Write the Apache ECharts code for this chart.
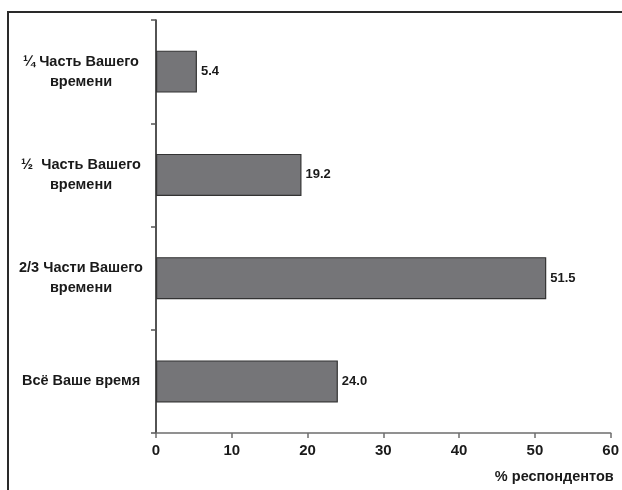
<!DOCTYPE html>
<html>
<head>
<meta charset="utf-8">
<script src="https://cdn.jsdelivr.net/npm/echarts@6/dist/echarts.min.js"></script>
<style>
  html, body { margin: 0; padding: 0; background: #fff; }
  #chart { width: 622px; height: 490px; }
</style>
</head>
<body>
<div id="chart"></div>
<script>
// Share of time answers, % of respondents
const categories = [
  '¼ Часть Вашего\nвремени',
  '½  Часть Вашего\nвремени',
  '2/3 Части Вашего\nвремени',
  'Всё Ваше время'
];
const values = [5.4, 19.2, 51.5, 24.0];
const xTicks = [0, 10, 20, 30, 40, 50, 60];
const xAxisTitle = '% респондентов';

const font = '"Liberation Sans", Arial, sans-serif';
const chart = echarts.init(document.getElementById('chart'), null, { renderer: 'canvas' });

chart.setOption({
  animation: false,
  backgroundColor: '#fff',
  grid: { left: 156, right: 8, top: 20, bottom: 57 },
  graphic: [{
    type: 'rect',
    shape: { x: 8, y: 12, width: 700, height: 600 },
    style: { fill: 'none', stroke: '#2a2a2a', lineWidth: 2 },
    silent: true
  }],
  xAxis: {
    type: 'value',
    min: xTicks[0],
    max: xTicks[xTicks.length - 1],
    interval: xTicks[1] - xTicks[0],
    splitLine: { show: false },
    axisLine: { show: true, lineStyle: { color: '#6e6e6e', width: 1.5 } },
    axisTick: { show: true, length: 5, lineStyle: { color: '#6e6e6e', width: 1.5 } },
    axisLabel: { color: '#1a1a1a', fontFamily: font, fontWeight: 'bold', fontSize: 15, margin: 10 },
    name: xAxisTitle,
    nameLocation: 'end',
    nameGap: 0,
    nameTextStyle: {
      color: '#1a1a1a', fontFamily: font, fontWeight: 'bold', fontSize: 14.5,
      align: 'right', verticalAlign: 'top', padding: [36, -3, 0, 0]
    }
  },
  yAxis: {
    type: 'category',
    data: categories,
    inverse: true,
    axisLine: { show: true, lineStyle: { color: '#1a1a1a', width: 1.5 } },
    axisTick: { show: true, length: 5, lineStyle: { color: '#555', width: 1.5 } },
    axisLabel: {
      color: '#1a1a1a', fontFamily: font, fontWeight: 'bold', fontSize: 14.5,
      lineHeight: 20, align: 'center', margin: 75
    }
  },
  series: [{
    type: 'bar',
    data: values,
    barWidth: 42,
    itemStyle: { color: '#757578', borderColor: '#333', borderWidth: 1.2 },
    label: {
      show: true,
      position: 'right',
      distance: 4,
      formatter: p => p.value.toFixed(1),
      color: '#1a1a1a', fontFamily: font, fontWeight: 'bold', fontSize: 13
    }
  }]
});
</script>
</body>
</html>
